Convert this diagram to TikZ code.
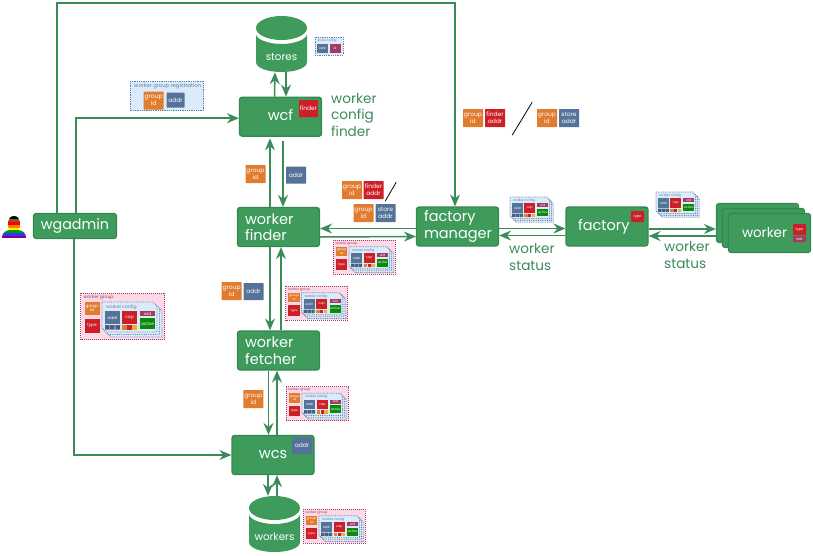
\documentclass[tikz,border=0pt]{standalone}
\usepackage{fontspec}
\setmainfont{Poppins}
\usetikzlibrary{arrows.meta}

\definecolor{boxgreen}{HTML}{3E9B5C}
\definecolor{boxedge}{HTML}{35874F}
\definecolor{linegreen}{HTML}{3B8A5A}
\definecolor{tagorange}{HTML}{E17B2E}
\definecolor{tagred}{HTML}{CC1F26}
\definecolor{tagblue}{HTML}{557299}
\definecolor{tagpurple}{HTML}{A33A62}
\definecolor{taggreen}{HTML}{0A8A0A}
\definecolor{tagslate}{HTML}{46607F}
\definecolor{tagyellow}{HTML}{E8B22E}
\definecolor{skyfill}{HTML}{DCEBFA}
\definecolor{skyedge}{HTML}{5D7EA8}
\definecolor{pinkfill}{HTML}{FBD9E6}
\definecolor{pinkedge}{HTML}{A83A63}

\tikzset{
  box/.style={draw=boxedge,line width=1.2pt,fill=boxgreen,rounded corners=2.5pt,text=white,
    minimum width=82pt,minimum height=39pt,inner sep=0pt,align=left,
    font=\fontsize{14.5}{16.5}\selectfont},
  flow/.style={draw=linegreen,line width=1.5pt,-{Stealth[length=12pt,width=10pt,inset=4pt]}},
  flowlabel/.style={text=linegreen,align=left,inner sep=0pt,anchor=west,font=\fontsize{13.6}{16.7}\selectfont},
  datatag/.style={inner sep=0pt,text=white,align=center,rounded corners=0.5pt,
    font=\fontsize{6}{7}\selectfont},
  groupid/.style={datatag,fill=tagorange,minimum width=20pt,minimum height=18pt},
  finderaddr/.style={datatag,fill=tagred,minimum width=20pt,minimum height=18pt},
  blueaddr/.style={datatag,fill=tagblue,minimum width=20pt,minimum height=18pt},
  typetag/.style={datatag,fill=tagred,minimum width=13pt,minimum height=11pt,font=\fontsize{3.5}{4}\selectfont},
  mini/.style={inner sep=0pt,text=white,font=\fontsize{4.2}{4.6}\selectfont},
  title/.style={inner sep=0pt,anchor=west,font=\fontsize{4.5}{5}\selectfont},
  skypanel/.style={draw=skyedge,densely dotted,line width=0.8pt,fill=skyfill},
}

% one worker config, three sheets deep
\newcommand{\wconfig}[4]{
\begin{scope}[shift={(#2,#3)},scale=#4,every node/.style={transform shape}]
\foreach \d in {5,2.5,0}{
  \draw [skypanel,shift={(\d,\d)}] (0,0) -- (51,0) -- (55,4) -- (55,30) -- (4,30) -- (0,26) -- cycle;
}
\node [title,text=skyedge] (#1-title) at (4,5) {worker config};
\node [mini,fill=tagblue,minimum width=15pt,minimum height=13pt] (#1-addr) at (10.5,15.5) {addr};
\node [mini,fill=tagred,minimum width=15pt,minimum height=13pt] (#1-cap) at (27.5,15.5) {cap};
\node [mini,fill=tagpurple,minimum width=15pt,minimum height=5pt] (#1-wid) at (45.5,11.5) {wid};
\node [mini,fill=taggreen,minimum width=15pt,minimum height=11pt] (#1-active) at (45.5,21.5) {active};
\fill [tagslate] (3,23) rectangle (7.5,27.5) (8.2,23) rectangle (12.7,27.5) (13.4,23) rectangle (18,27.5);
\fill [tagorange] (20,23) rectangle (24.5,27.5);
\fill [tagred] (25.2,23) rectangle (29.7,27.5);
\fill [tagyellow] (30.4,23) rectangle (35,27.5);
\end{scope}
}

% one worker group, holding a worker config
\newcommand{\wgroup}[4]{
\begin{scope}[shift={(#2,#3)},scale=#4,every node/.style={transform shape}]
\draw [draw=pinkedge,densely dotted,line width=1pt,fill=pinkfill] (0,0) rectangle (84,46.5);
\node [title,text=pinkedge] (#1-title) at (3,4.5) {worker group};
\node [mini,fill=tagorange,minimum width=15pt,minimum height=12.5pt,align=center] (#1-id) at (11.5,15.5) {group\\id};
\node [mini,fill=tagred,minimum width=15pt,minimum height=14pt] (#1-type) at (11.5,33) {type};
\wconfig{#1-conf}{21.5}{9}{1}
\end{scope}
}

% database drum, with a node to hook the connectors on
\newcommand{\drum}[4]{
\node [minimum width=51pt,minimum height=56pt,inner sep=0pt] (#1) at (#2,#3+28) {};
\begin{scope}[shift={(#2,#3)}]
\fill [boxgreen] (-25.5,18) -- (-25.5,46) .. controls (-25.5,52) and (-14,56) .. (0,56)
  .. controls (14,56) and (25.5,52) .. (25.5,46) -- (25.5,18)
  .. controls (25.5,23) and (14,28) .. (0,28) .. controls (-14,28) and (-25.5,23) .. (-25.5,18) -- cycle;
\fill [boxgreen] (0,12) ellipse (25.5pt and 12pt);
\node [text=white,inner sep=0pt,font=\fontsize{10.3}{12}\selectfont] (#1-label) at (0,41) {#4};
\end{scope}
}

\begin{document}
\begin{tikzpicture}[x=1pt,y=-1pt]

\path [use as bounding box] (0,0) rectangle (813,555);

% person with the flag colours
\begin{scope}
\clip (7,238) -- (2,238) .. controls (2,233) and (5,231) .. (9,230) .. controls (7,226) and (7,216) .. (14,216)
  .. controls (21,216) and (21,226) .. (19,230) .. controls (23,231) and (26,233) .. (26,238) -- cycle;
\fill [black] (0,216) rectangle (28,219);
\fill [brown!70!black] (0,219) rectangle (28,222);
\fill [red] (0,222) rectangle (28,225);
\fill [orange] (0,225) rectangle (28,227.5);
\fill [yellow] (0,227.5) rectangle (28,230);
\fill [green!60!black] (0,230) rectangle (28,232.5);
\fill [blue!80!white] (0,232.5) rectangle (28,235.5);
\fill [violet] (0,235.5) rectangle (28,238);
\end{scope}

\node [box,minimum width=83pt,minimum height=25pt,font=\fontsize{14.3}{16}\selectfont] (wgadmin) at (75,226) {wgadmin};
\node [box,text depth=3pt] (wcf) at (280.5,116.7) {wcf};
\node [box,text width=67pt] (finder) at (278.5,227) {worker\\finder};
\node [box,text width=67pt] (fetcher) at (278.5,350.5) {worker\\fetcher};
\node [box] (wcs) at (273,455) {wcs};
\node [box,text width=67pt] (manager) at (457.5,226.5) {factory\\manager};
\node [box,text width=58pt] (factory) at (607,226.5) {factory};
\node [box] (workerc) at (757.5,223) {};
\node [box] (workerb) at (763.5,228) {};
\node [box,text width=55pt,font=\fontsize{13.5}{16}\selectfont] (workera) at (769.5,233) {worker};

\drum{stores}{281.5}{16}{stores}
\drum{workers}{274.5}{496}{workers}

% connectors
\coordinate (toprail) at (250,3);
\draw [flow] ([xshift=-18pt]wgadmin.north) |- (toprail) -| ([xshift=-2.5pt]manager.north);
\draw [flow] ([xshift=1pt]wgadmin.north) |- ([yshift=-1.5pt]wcf.west);
\draw [flow] ([xshift=-1pt]wgadmin.south) |- (wcs.west);
\draw [flow] ([xshift=-6pt]wcf.north) -- ([xshift=-6.5pt]stores.south);
\draw [flow] ([xshift=4.5pt]stores.south) -- ([xshift=5.5pt]wcf.north);
\draw [flow] ([xshift=-8.5pt]finder.north) -- ([xshift=-10.5pt,yshift=-1.5pt]wcf.south);
\draw [flow] ([xshift=2.5pt,yshift=-4pt]wcf.south) -- ([xshift=4.5pt]finder.north);
\draw [flow] ([xshift=-8.5pt]finder.south) -- ([xshift=-8.5pt]fetcher.north);
\draw [flow] ([xshift=2.5pt]fetcher.north) -- ([xshift=2.5pt]finder.south);
\draw [flow] ([xshift=-10pt]fetcher.south) -- ([xshift=-4.5pt]wcs.north);
\draw [flow] ([xshift=4pt]wcs.north) -- ([xshift=-1.5pt]fetcher.south);
\draw [flow] ([xshift=-5pt]wcs.south) -- ([xshift=-6.5pt]workers.north);
\draw [flow] ([xshift=2.5pt]workers.north) -- ([xshift=4pt]wcs.south);
\draw [flow] ([yshift=-2pt]manager.west) -- ([yshift=-1.5pt]finder.east);
\draw [flow] ([yshift=-10pt]finder.east) -- ([yshift=-10pt]manager.west);
\draw [flow] ([yshift=-2pt]manager.east) -- ([yshift=-2pt]factory.west);
\draw [flow] ([yshift=-9pt]factory.west) -- ([yshift=-9pt]manager.east);
\draw [flow] ([yshift=-2.5pt]factory.east) -- ([yshift=-2.5pt]factory.east -| workerc.west);
\draw [flow] ([yshift=-9.5pt]factory.east -| workerc.west) -- ([yshift=-9.5pt]factory.east);

% labels on the side
\node [flowlabel] (wcflabel) at (331,115) {worker\\config\\finder};
\node [flowlabel] (statusa) at (509,257) {worker\\status};
\node [flowlabel] (statusb) at (664,255) {worker\\status};

% tags inside the boxes
\node [datatag,fill=tagred,minimum width=19pt,minimum height=17pt] (wcftag) at (308.5,108.5) {finder};
\node [typetag] (factorytag) at (637.5,216.5) {type};
\node [typetag] (workertype) at (799.5,229.5) {type};
\node [typetag,fill=tagpurple,minimum height=6pt] (workerwid) at (799.5,239) {wid};
\node [blueaddr,minimum width=20pt,minimum height=17pt] (wcsaddr) at (302,445.5) {addr};

% worker group registration
\draw [skypanel] (130,81) rectangle (203.5,110.5);
\node [title,text=skyedge,font=\fontsize{5.3}{6}\selectfont] (regtitle) at (134,86) {worker group registration};
\node [groupid] (regid) at (153.7,100.5) {group\\id};
\node [blueaddr,minimum width=18pt,minimum height=15pt] (regaddr) at (175.5,100) {addr};

% store config
\draw [skypanel] (315,37) rectangle (343,55);
\node [title,text=skyedge,font=\fontsize{3.2}{4}\selectfont] (storetitle) at (317.5,40.5) {store config};
\node [mini,fill=tagblue,minimum width=11pt,minimum height=9pt,font=\fontsize{3}{4}\selectfont] (storeaddr) at (322.5,48) {addr};
\node [mini,fill=tagpurple,minimum width=11pt,minimum height=9pt,font=\fontsize{3}{4}\selectfont] (storeid) at (335,48) {id};

% tags along the connectors
\node [groupid] (idwcf) at (255.5,174) {group\\id};
\node [blueaddr,minimum height=17pt] (addrwcf) at (296,175) {addr};
\node [groupid] (idtop) at (473,118) {group\\id};
\node [finderaddr] (findertop) at (495,118) {finder\\addr};
\node [groupid] (idtopb) at (547,118) {group\\id};
\node [blueaddr] (storetop) at (569,118) {store\\addr};
\node [groupid] (idmid) at (352,190) {group\\id};
\node [finderaddr] (findermid) at (373.5,190) {finder\\addr};
\node [groupid] (idmidb) at (363.5,213) {group\\id};
\node [blueaddr] (storemid) at (385.5,213) {store\\addr};
\node [groupid] (idfetch) at (231.7,291) {group\\id};
\node [blueaddr,minimum height=17pt] (addrfetch) at (253.5,291.5) {addr};
\node [groupid] (idwcs) at (253.3,399) {group\\id};

\draw [black,line width=0.8pt] (idtop.south -| findertop.east) ++(7,8) -- ++(20,-33);
\draw [black,line width=0.8pt] (findermid.south east) ++(1.5,2) -- ++(11,-19);

% worker groups and configs
\wgroup{groupa}{80.5}{293}{1}
\wgroup{groupb}{333}{240}{0.74}
\wgroup{groupc}{285.5}{286}{0.74}
\wgroup{groupd}{286}{386.5}{0.74}
\wgroup{groupe}{303}{509}{0.74}
\wconfig{confa}{510}{197}{0.72}
\wconfig{confb}{656}{192}{0.72}

\end{tikzpicture}
\end{document}
